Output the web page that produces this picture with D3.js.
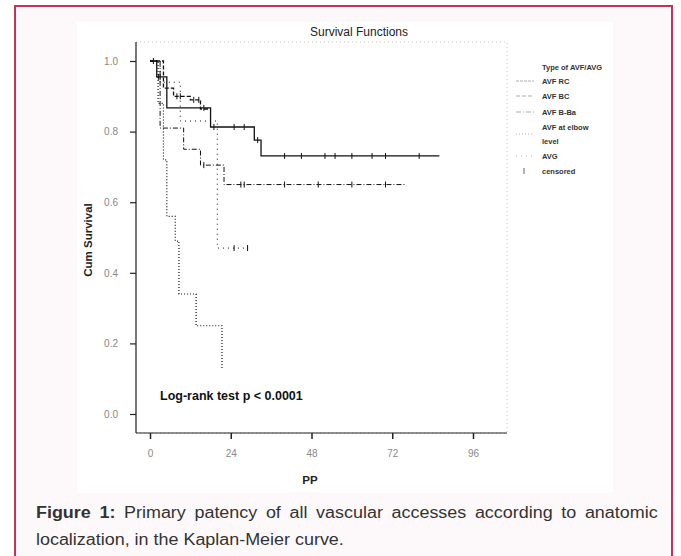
<!DOCTYPE html>
<html lang="en">
<head>
<meta charset="utf-8">
<title>Survival Functions</title>
<style>
  body { margin: 0; background: #fff; font-family: "Liberation Sans", Arial, sans-serif; }
  #wrap { position: relative; width: 681px; height: 556px; overflow: hidden; }
  .cap {
    position: absolute; left: 36px; width: 555px;
    font-size: 16px; line-height: 20px; color: #333; white-space: nowrap;
    transform: scaleX(1.12); transform-origin: 0 0;
  }
  #cap1 { top: 503px; text-align: justify; text-align-last: justify; }
  #cap2 { top: 530px; }
</style>
</head>
<body>
<div id="wrap">
  <div id="chart"></div>
  <div class="cap" id="cap1"><b>Figure 1:</b> Primary patency of all vascular accesses according to anatomic</div>
  <div class="cap" id="cap2">localization, in the Kaplan-Meier curve.</div>
</div>
<script src="https://cdn.jsdelivr.net/npm/d3@7"></script>
<script>

var width = 681, height = 556;

// ---- data ----
var groups = ["AVF RC", "AVF BC", "AVF B-Ba", "AVF at elbow level", "AVG"];
// step points [time, survival] per group
var stepsRC    = [[0, 1.0], [2, 0.955], [5, 0.867], [18, 0.813], [31, 0.776], [33, 0.731], [86, 0.731]];
var stepsBC    = [[0, 1.0], [4, 0.923], [7, 0.90], [12, 0.89], [15, 0.864], [18, 0.864]];
var stepsBBa   = [[0, 1.0], [3, 0.81], [10, 0.75], [15, 0.705], [22, 0.65], [76, 0.65]];
var stepsElbow = [[0, 1.0], [2.4, 0.88], [4, 0.72], [5, 0.56], [7.5, 0.49], [8.6, 0.34], [13.7, 0.25], [21.4, 0.25], [21.4, 0.13]];
var stepsAVG   = [[0, 1.0], [3, 0.94], [9, 0.83], [20, 0.47], [29, 0.47]];
// censored times per group
var censRC    = [1, 2.5, 3, 16, 19, 25, 28, 32, 40, 45, 52, 55, 60, 66, 70, 80];
var censBC    = [8, 9, 13, 14.5];
var censBBa   = [16, 27, 28, 40, 50, 60, 70];
var censElbow = [];
var censAVG   = [25, 29];

var xTicks = [0, 24, 48, 72, 96];
var yTicks = [0.0, 0.2, 0.4, 0.6, 0.8, 1.0];

var series = [
  {name: groups[0], steps: stepsRC,    cens: censRC,    dash: null,      w: 1.3},
  {name: groups[1], steps: stepsBC,    cens: censBC,    dash: "4,2",     w: 1.3},
  {name: groups[2], steps: stepsBBa,   cens: censBBa,   dash: "5,2,1,2", w: 1},
  {name: groups[3], steps: stepsElbow, cens: censElbow, dash: "1,2",     w: 1.2},
  {name: groups[4], steps: stepsAVG,   cens: censAVG,   dash: "1,4",     w: 1}
];

var svg = d3.select("#chart").append("svg")
    .attr("width", width)
    .attr("height", height)
    .style("position", "absolute").style("left", 0).style("top", 0);

// figure frame
svg.append("rect").attr("x", 15).attr("y", 6).attr("width", 657).attr("height", 580)
  .attr("fill", "#fdf9fa").attr("stroke", "#c4325a").attr("stroke-width", 2);
svg.append("rect").attr("x", 77).attr("y", 22).attr("width", 536).attr("height", 470)
  .attr("fill", "#fff");

var x = d3.scaleLinear().domain([0, 96]).range([150, 473]);
var y = d3.scaleLinear().domain([0, 1]).range([414, 61]);

// plot box (faint)
svg.append("rect").attr("x", 136).attr("y", 42).attr("width", 371).attr("height", 391)
  .attr("fill", "none").attr("stroke", "#bbb").attr("stroke-width", 0.8).attr("stroke-dasharray", "1,3");

// axes
svg.append("g").attr("transform", "translate(0,433)")
  .call(d3.axisBottom(x).tickValues(xTicks).tickSize(6).tickFormat(d3.format("d")))
  .call(function(g){
    g.select(".domain").attr("d", "M136,0H507").attr("stroke", "#222").attr("stroke-width", 1.2);
    g.selectAll(".tick line").attr("stroke", "#222").attr("stroke-width", 1.5);
    g.selectAll(".tick text").attr("dy", "1.5em").attr("fill", "#888")
      .style("font-size", "10px").style("font-family", "Liberation Sans, Arial, sans-serif");
  });

svg.append("g").attr("transform", "translate(136,0)")
  .call(d3.axisLeft(y).tickValues(yTicks).tickSize(6).tickFormat(d3.format(".1f")))
  .call(function(g){
    g.select(".domain").attr("d", "M0,42V433").attr("stroke", "#222").attr("stroke-width", 1.2);
    g.selectAll(".tick line").attr("stroke", "#222").attr("stroke-width", 1.2);
    g.selectAll(".tick text").attr("dx", "-0.9em").attr("fill", "#888")
      .style("font-size", "10px").style("font-family", "Liberation Sans, Arial, sans-serif");
  });

// curves
var line = d3.line().curve(d3.curveStepAfter).x(function(d){ return x(d[0]); }).y(function(d){ return y(d[1]); });

function survAt(steps, t){
  var s = steps[0][1];
  steps.forEach(function(p){ if (p[0] <= t) s = p[1]; });
  return s;
}

series.forEach(function(s){
  svg.append("path").datum(s.steps)
    .attr("d", line)
    .attr("fill", "none").attr("stroke", "#111")
    .attr("stroke-width", s.w)
    .attr("stroke-dasharray", s.dash);
  svg.selectAll(null).data(s.cens).enter().append("line")
    .attr("x1", function(t){ return x(t); }).attr("x2", function(t){ return x(t); })
    .attr("y1", function(t){ return y(survAt(s.steps, t)) - 3; })
    .attr("y2", function(t){ return y(survAt(s.steps, t)) + 3; })
    .attr("stroke", "#111").attr("stroke-width", 1);
});

// texts
svg.append("text").attr("x", 359).attr("y", 36).attr("text-anchor", "middle")
  .style("font-size", "12px").attr("fill", "#222").text("Survival Functions");
svg.append("text").attr("transform", "translate(92,240) rotate(-90)").attr("text-anchor", "middle")
  .style("font-size", "11.5px").style("font-weight", "bold").attr("fill", "#222").text("Cum Survival");
svg.append("text").attr("x", 310).attr("y", 484).attr("text-anchor", "middle")
  .style("font-size", "11.5px").style("font-weight", "bold").attr("fill", "#222").text("PP");
svg.append("text").attr("x", 160).attr("y", 400)
  .style("font-size", "12.5px").style("font-weight", "bold").attr("fill", "#111").text("Log-rank test p < 0.0001");

// legend
var legendRows = ["Type of AVF/AVG"].concat(groups.slice(0, 3), ["AVF at elbow", "level"], [groups[4], "censored"]);
var legendY = [70, 84, 99, 115, 130, 144, 159, 174];
svg.selectAll(".leg").data(legendRows).enter().append("text")
  .attr("class", "leg")
  .attr("x", 542).attr("y", function(d, i){ return legendY[i]; })
  .style("font-size", "7.5px").style("font-weight", "bold").attr("fill", "#333")
  .text(function(d){ return d; });

var legendSym = [84, 99, 115, 137, 159];
series.forEach(function(s, i){
  svg.append("line").attr("x1", 516).attr("x2", 534)
    .attr("y1", legendSym[i] - 3).attr("y2", legendSym[i] - 3)
    .attr("stroke", "#999").attr("stroke-width", 0.8).attr("stroke-dasharray", s.dash || "3,1");
});
svg.append("line").attr("x1", 524).attr("x2", 524).attr("y1", 168).attr("y2", 174)
  .attr("stroke", "#666").attr("stroke-width", 1);

</script>
</body>
</html>
